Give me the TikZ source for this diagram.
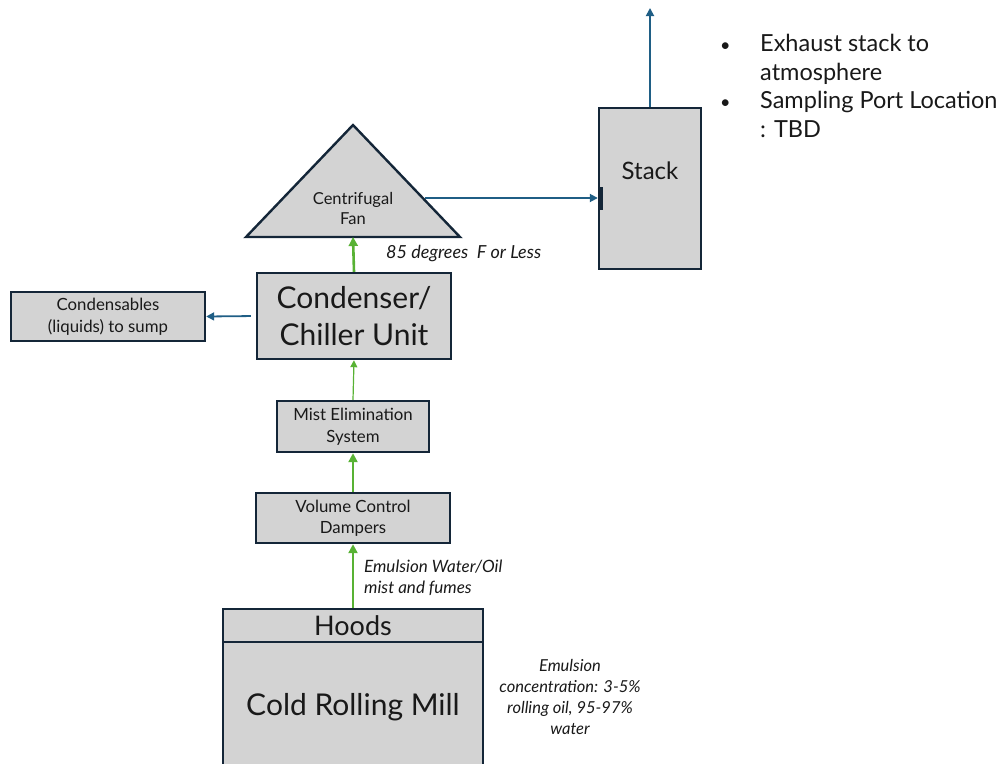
\documentclass[tikz,border=0pt]{standalone}
\usepackage{fontspec}
\setmainfont{Lato}
\usetikzlibrary{arrows.meta}
\definecolor{boxfill}{RGB}{211,211,211}
\definecolor{boxline}{RGB}{20,38,56}
\definecolor{flowblue}{RGB}{31,94,133}
\definecolor{flowgreen}{RGB}{88,178,52}
\definecolor{ink}{RGB}{25,25,25}
\newcommand{\fs}[2]{\fontsize{#1}{#2}\selectfont}
\tikzset{
  unit/.style={draw=boxline, line width=2.4pt, fill=boxfill, text=ink, align=center, inner sep=0pt},
  bluearrow/.style={draw=flowblue, line width=1.8pt, -{Triangle[length=8pt,width=8pt]}},
  greenarrow/.style={draw=flowgreen, line width=2.6pt, -{Triangle[length=9pt,width=9pt]}},
  greenthin/.style={draw=flowgreen, line width=1.2pt, -{Triangle[length=7pt,width=7pt]}},
  note/.style={text=ink, align=center, inner sep=0pt},
  smalltext/.style={font=\fs{16.8}{21.5}},
  smallitalic/.style={font=\fs{17}{21}\itshape}
}
\begin{document}
\begin{tikzpicture}[x=1pt,y=-1pt]
\useasboundingbox (0,0) rectangle (1003,763);
\clip (0,0) rectangle (1003,763);

% centrifugal fan
\coordinate (fanapex) at (353,125);
\coordinate (fanleft) at (246,237);
\coordinate (fanright) at (460,237);
\draw[draw=boxline, line width=2.4pt, fill=boxfill, line join=miter] (fanapex) -- (fanright) -- (fanleft) -- cycle;
\node[note, font=\fs{16.5}{20}] (fan) at (353,208) {Centrifugal\\Fan};
\coordinate (fanbase) at (353,237);
\coordinate (fanout) at (425,198);

% stack
\node[unit, minimum width=102pt, minimum height=161pt] (stack) at (650,188.5) {};
\node[note, font=\fs{24}{28}] (stacklabel) at (650,171) {Stack};
\fill[boxline] (598,187) rectangle (602.5,210);
\coordinate (sky) at (650,8);

% process units
\node[unit, minimum width=194pt, minimum height=86pt, font=\fs{30}{37}] (cond) at (354,316) {Condenser/\\Chiller Unit};
\node[unit, minimum width=194pt, minimum height=49pt, smalltext] (sump) at (108,316.5) {\rule{0pt}{0pt}\raisebox{-2pt}{Condensables}\\\raisebox{-2pt}{(liquids) to sump}};
\node[unit, minimum width=152pt, minimum height=51pt, smalltext] (mist) at (353,426.5) {Mist Elimination\\System};
\node[unit, minimum width=194pt, minimum height=50pt, smalltext] (damp) at (353,518) {Volume Control\\Dampers};
\node[unit, minimum width=260pt, minimum height=33pt, font=\fs{27}{30}] (hoods) at (353,625.5) {Hoods};
\node[unit, minimum width=260pt, minimum height=130pt, font=\fs{30}{34}] (mill) at (353,707) {Cold Rolling Mill};

% flows
\draw[greenarrow] (cond.north) -- (fanbase);
\draw[greenthin] (mist.north) -- (cond.south);
\draw[greenarrow] (damp.north) -- (mist.south);
\draw[greenarrow] (hoods.north) -- (damp.south);
\draw[bluearrow] (fanout) -- (stack.west |- fanout);
\draw[bluearrow] (stack.north) -- (sky);
\draw[bluearrow, shorten <=5pt] (cond.west) -- (sump.east);

% annotations
\node[note, anchor=west, font=\fs{18}{21}\itshape] (templabel) at (386,254) {85 degrees\ \ F or Less};
\node[note, anchor=west, align=left, smallitalic] (flowlabel) at (364,578) {Emulsion Water/Oil\\mist and fumes};
\node[note, font=\fs{16.5}{21}\itshape] (emulsion) at (570,697) {Emulsion\\concentration: 3-5\%\\rolling oil, 95-97\%\\water};
\node[note, anchor=north west, align=left, font=\fs{23.5}{28.5}] (bullets) at (720,31.5) {%
  \begin{tabular}{@{}p{40pt}@{}l@{}}
  {\fs{18}{28.5}\textbullet} & Exhaust stack to\\
   & atmosphere\\
  {\fs{18}{28.5}\textbullet} & Sampling Port Location\\
   & : TBD
  \end{tabular}};
\end{tikzpicture}
\end{document}
